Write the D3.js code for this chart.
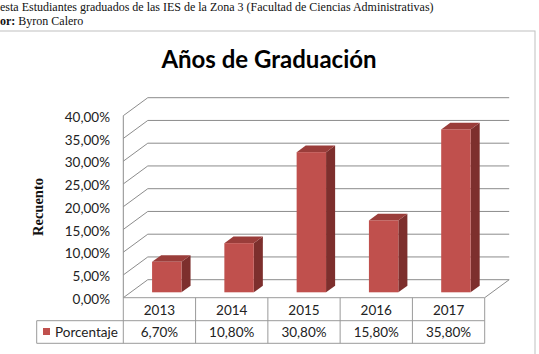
<!DOCTYPE html>
<html lang="es">
<head>
<meta charset="utf-8">
<script src="https://d3js.org/d3.v7.min.js"></script>
<style>
  body, html { margin: 0; padding: 0; background: #fff; overflow: hidden; }
  svg { display: block; }
  .cap { font-family: 'Liberation Serif', 'Times New Roman', serif; font-size: 12px; fill: #111; }
  .lbl { font-family: Lato, 'Open Sans', sans-serif; font-size: 13.5px; fill: #222; }
</style>
</head>
<body>
<div id="chart"></div>
<script>
// data
const years = ["2013", "2014", "2015", "2016", "2017"];
const porcentaje = [6.7, 10.8, 30.8, 15.8, 35.8];
const yTicks = [0, 5, 10, 15, 20, 25, 30, 35, 40];
const seriesName = "Porcentaje";

const width = 539, height = 354;
const DX = 24.5, DY = 18;          // depth of the 3d box
const barFront = 0.3, barBack = 0.67; // bar depth inside the box

const fmt = v => d3.format(".2f")(v).replace(".", ",") + "%";

const svg = d3.select("#chart").append("svg")
    .attr("width", width).attr("height", height);

// caption lines above the chart (cut at left like the scan)
svg.append("text").attr("class", "cap").attr("x", 0).attr("y", 10.5)
    .text("esta Estudiantes graduados de las IES de la Zona 3 (Facultad de Ciencias Administrativas)");
const c2 = svg.append("text").attr("class", "cap").attr("x", 0).attr("y", 24.5);
c2.append("tspan").attr("font-weight", "bold").text("or:");
c2.append("tspan").text(" Byron Calero");

// chart frame
svg.append("rect")
    .attr("x", -2).attr("y", 31).attr("width", 537).attr("height", 340)
    .attr("fill", "#fff").attr("stroke", "#bfbfbf").attr("stroke-width", 1);

svg.append("text")
    .attr("x", 269).attr("y", 68)
    .attr("text-anchor", "middle")
    .style("font-family", "Lato, 'Open Sans', sans-serif")
    .style("font-weight", "bold")
    .style("font-size", "24px")
    .attr("fill", "#000")
    .text("Años de Graduación");

const x = d3.scaleBand().domain(years).range([123.3, 484.7]).padding(0);
const y = d3.scaleLinear().domain([0, 40]).range([297.7, 115.7]);

const grid = svg.append("g").attr("stroke", "#8c8c8c").attr("stroke-width", 1).attr("fill", "none");

// back wall gridlines
grid.selectAll("line.back").data(yTicks).join("line")
    .attr("x1", x.range()[0] + DX).attr("x2", x.range()[1] + DX)
    .attr("y1", d => y(d) - DY).attr("y2", d => y(d) - DY);

// side wall diagonals
grid.selectAll("line.side").data(yTicks).join("line")
    .attr("x1", x.range()[0]).attr("x2", x.range()[0] + DX)
    .attr("y1", d => y(d)).attr("y2", d => y(d) - DY);

// vertical axis line at front-left
grid.append("line")
    .attr("x1", x.range()[0]).attr("x2", x.range()[0])
    .attr("y1", y(40)).attr("y2", y(0));

// floor right edge
grid.append("line")
    .attr("x1", x.range()[1]).attr("x2", x.range()[1] + DX)
    .attr("y1", y(0)).attr("y2", y(0) - DY);

// y tick labels
svg.selectAll("text.ytick").data(yTicks).join("text")
    .attr("class", "lbl")
    .attr("x", 110).attr("y", d => y(d) + 1.5)
    .attr("dy", "0.35em")
    .attr("text-anchor", "end")
    .text(fmt);

svg.append("text")
    .attr("transform", "translate(43,207) rotate(-90)")
    .attr("text-anchor", "middle")
    .style("font-family", "'Liberation Serif', 'Times New Roman', serif")
    .style("font-weight", "bold")
    .style("font-size", "14.5px")
    .attr("fill", "#111")
    .text("Recuento");

// 3d bars
const bw = x.bandwidth() * 0.407;
const bars = svg.append("g").selectAll("g").data(years).join("g");
bars.each(function (yr, i) {
  const g = d3.select(this);
  const fx = x(yr) + (x.bandwidth() - bw) / 2 + DX * barFront;
  const fy0 = y(0) - DY * barFront;
  const fy1 = y(porcentaje[i]) - DY * barFront;
  const ddx = DX * (barBack - barFront), ddy = DY * (barBack - barFront);
  // side
  g.append("path")
      .attr("d", `M${fx + bw},${fy0} L${fx + bw + ddx},${fy0 - ddy} L${fx + bw + ddx},${fy1 - ddy} L${fx + bw},${fy1} Z`)
      .attr("fill", "#7d2f2d");
  // top
  g.append("path")
      .attr("d", `M${fx},${fy1} L${fx + ddx},${fy1 - ddy} L${fx + bw + ddx},${fy1 - ddy} L${fx + bw},${fy1} Z`)
      .attr("fill", "#9a3d3a");
  // front
  g.append("rect")
      .attr("x", fx).attr("y", fy1).attr("width", bw).attr("height", fy0 - fy1)
      .attr("fill", "#c0504d");
});

// data table
const tTop = 297.7, tMid = 320.7, tBot = 343.3, legL = 36.7;
const tbl = svg.append("g").attr("stroke", "#9a9a9a").attr("stroke-width", 1).attr("fill", "none");
tbl.append("line").attr("x1", x.range()[0]).attr("x2", x.range()[1]).attr("y1", tTop).attr("y2", tTop);
tbl.append("line").attr("x1", legL).attr("x2", x.range()[1]).attr("y1", tMid).attr("y2", tMid);
tbl.append("line").attr("x1", legL).attr("x2", x.range()[1]).attr("y1", tBot).attr("y2", tBot);
tbl.append("line").attr("x1", legL).attr("x2", legL).attr("y1", tMid).attr("y2", tBot);
tbl.selectAll("line.col").data(years.concat(["end"])).join("line")
    .attr("x1", (d, i) => x.range()[0] + i * x.step())
    .attr("x2", (d, i) => x.range()[0] + i * x.step())
    .attr("y1", tTop).attr("y2", tBot);

svg.selectAll("text.yr").data(years).join("text")
    .attr("class", "lbl")
    .attr("x", d => x(d) + x.bandwidth() / 2)
    .attr("y", (tTop + tMid) / 2 + 1).attr("dy", "0.35em")
    .attr("text-anchor", "middle")
    .text(d => d);

svg.selectAll("text.val").data(porcentaje).join("text")
    .attr("class", "lbl")
    .attr("x", (d, i) => x(years[i]) + x.bandwidth() / 2)
    .attr("y", (tMid + tBot) / 2 + 0.5).attr("dy", "0.35em")
    .attr("text-anchor", "middle")
    .text(fmt);

svg.append("rect")
    .attr("x", 43).attr("y", 328).attr("width", 7).attr("height", 7)
    .attr("fill", "#c0504d");
svg.append("text")
    .attr("class", "lbl")
    .attr("x", 55).attr("y", (tMid + tBot) / 2 + 0.5).attr("dy", "0.35em")
    .text(seriesName);
</script>
</body>
</html>
